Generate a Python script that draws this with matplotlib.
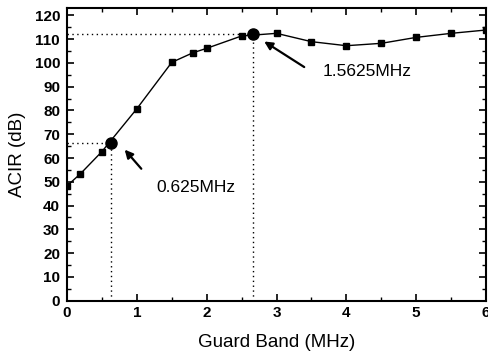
import matplotlib
matplotlib.use("Agg")
import matplotlib.pyplot as plt
from matplotlib.ticker import MultipleLocator

plt.rcParams['font.family'] = ['Liberation Sans', 'DejaVu Sans']

# ACIR vs guard band
guard_band = [0, 0.19, 0.5, 1.0, 1.5, 1.8, 2.0, 2.5, 3.0, 3.5, 4.0, 4.5, 5.0, 5.5, 6.0]
acir = [48.3, 53.3, 62.7, 80.7, 100.2, 104.2, 106.1, 111.3, 112.4, 108.9, 107.2, 108.2, 110.7, 112.4, 113.8]

# highlighted points
mark_x = [0.625, 2.67]
mark_y = [66.5, 112.2]
mark_labels = ['0.625MHz', '1.5625MHz']
label_pos = [(1.85, 47.5), (4.29, 96.2)]
arrow_tail = [(1.09, 54.6), (3.43, 97.6)]
arrow_head = [(0.80, 64.4), (2.79, 109.6)]

fig = plt.figure(figsize=(4.89, 3.53), dpi=100)
ax = fig.add_axes([0.137, 0.148, 0.857, 0.829])

ax.plot(guard_band, acir, color='black', lw=1.0, marker='s', ms=4)

for x, y in zip(mark_x, mark_y):
    ax.plot([0, x], [y, y], color='black', lw=1.0, ls=(0, (1, 2.5)))
    ax.plot([x, x], [0, y], color='black', lw=1.0, ls=(0, (1, 2.5)))
ax.plot(mark_x, mark_y, 'o', color='black', ms=8)

for lab, pos, tail, head in zip(mark_labels, label_pos, arrow_tail, arrow_head):
    ax.text(pos[0], pos[1], lab, ha='center', va='center', fontsize=12.5)
    ax.annotate('', xy=head, xytext=tail,
                arrowprops=dict(arrowstyle='-|>', color='black', lw=1.6, mutation_scale=12))

ax.set_xlim(0, 6)
ax.set_ylim(0, 123)
ax.xaxis.set_major_locator(MultipleLocator(1))
ax.xaxis.set_minor_locator(MultipleLocator(0.5))
ax.yaxis.set_major_locator(MultipleLocator(10))
ax.yaxis.set_minor_locator(MultipleLocator(5))
ax.tick_params(which='both', direction='in', top=True, right=True, labelsize=11)
ax.tick_params(which='major', length=5, width=1.2)
ax.tick_params(which='minor', length=3, width=1.0)
ax.tick_params(axis='y', pad=5)
for lbl in ax.get_xticklabels() + ax.get_yticklabels():
    lbl.set_fontweight('bold')
for s in ax.spines.values():
    s.set_linewidth(1.5)

ax.set_xlabel('Guard Band (MHz)', fontsize=13.5, labelpad=10)
ax.set_ylabel('ACIR (dB)', fontsize=13.5, labelpad=6)

fig.savefig('out.png', dpi=100)
